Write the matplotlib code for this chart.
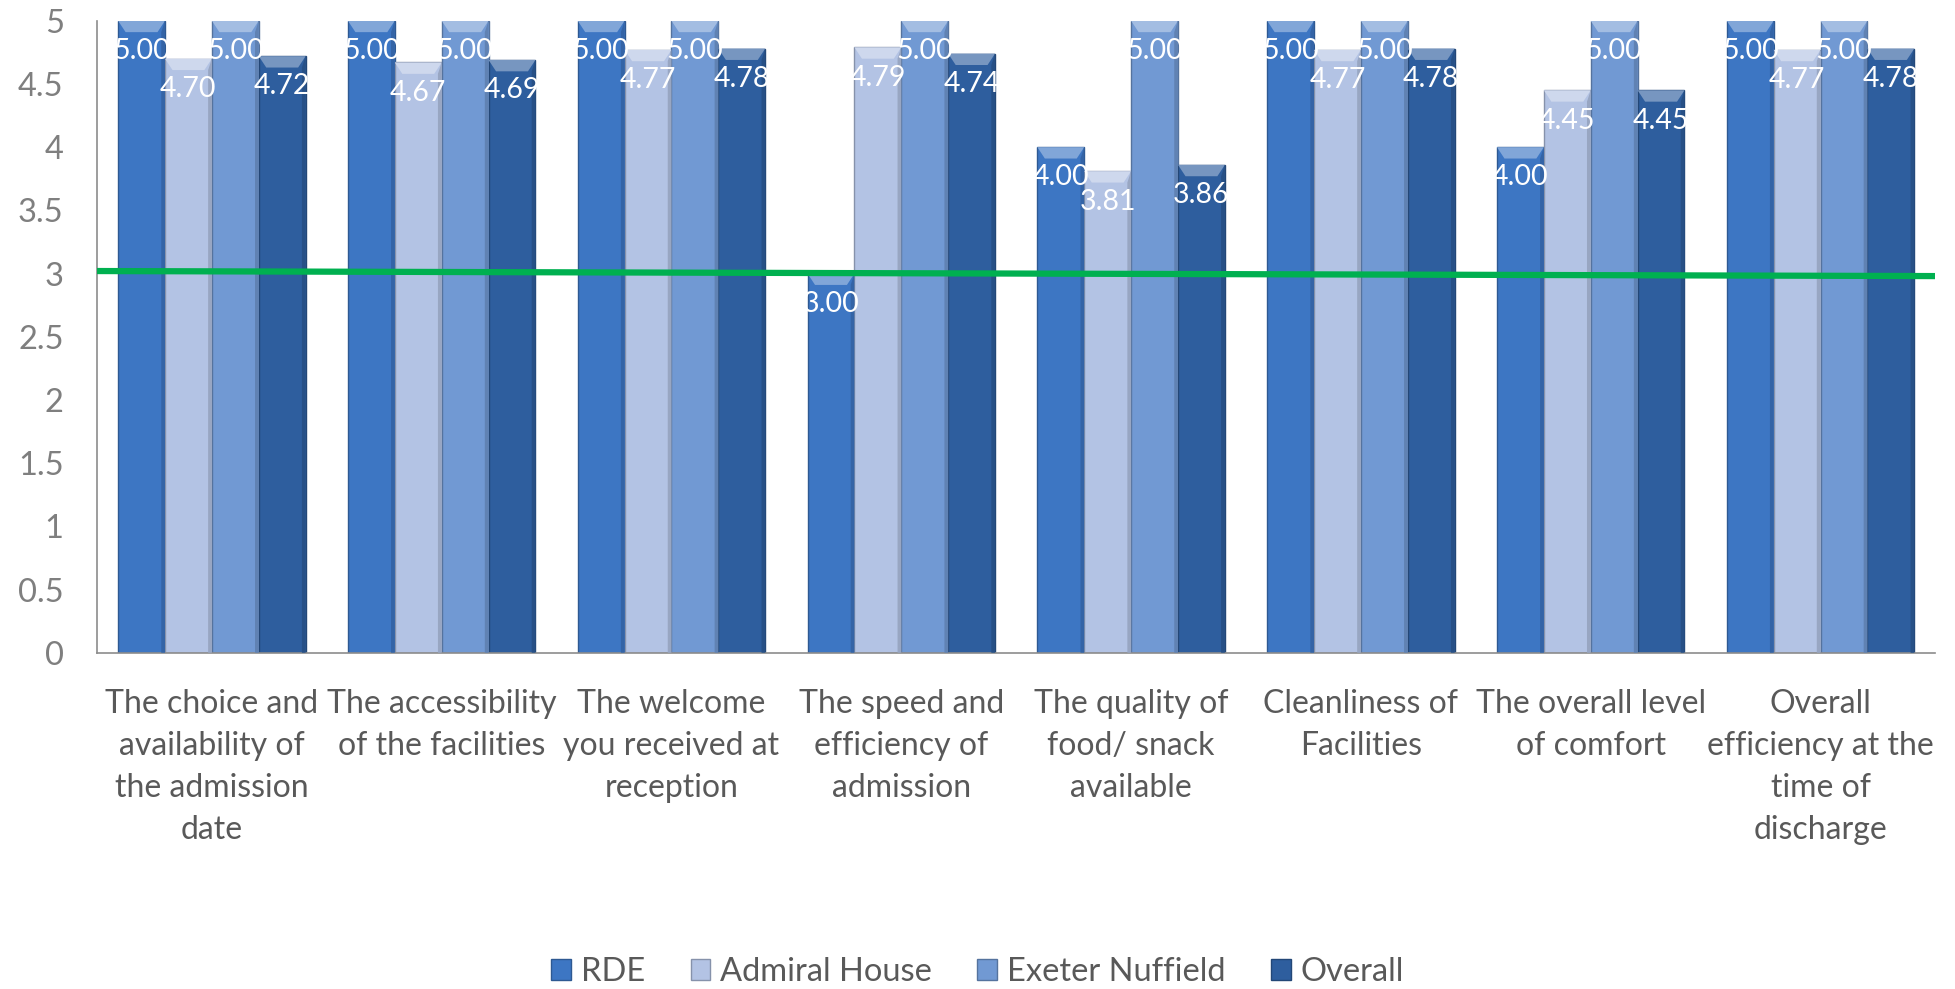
import matplotlib
matplotlib.use("Agg")
import matplotlib.pyplot as plt
import matplotlib.colors as mcolors
from matplotlib.patches import Polygon
import numpy as np

# data
categories = [
    "The choice and\navailability of\nthe admission\ndate",
    "The accessibility\nof the facilities",
    "The welcome\nyou received at\nreception",
    "The speed and\nefficiency of\nadmission",
    "The quality of\nfood/ snack\navailable",
    "Cleanliness of\nFacilities",
    "The overall level\nof comfort",
    "Overall\nefficiency at the\ntime of\ndischarge",
]
rde = [5.00, 5.00, 5.00, 3.00, 4.00, 5.00, 4.00, 5.00]
admiral_house = [4.70, 4.67, 4.77, 4.79, 3.81, 4.77, 4.45, 4.77]
exeter_nuffield = [5.00, 5.00, 5.00, 5.00, 5.00, 5.00, 5.00, 5.00]
overall = [4.72, 4.69, 4.78, 4.74, 3.86, 4.78, 4.45, 4.78]
target_line = [3.02, 2.98]

series = [
    ("RDE", rde, "#3D76C3"),
    ("Admiral House", admiral_house, "#B3C3E4"),
    ("Exeter Nuffield", exeter_nuffield, "#7199D3"),
    ("Overall", overall, "#2E5E9E"),
]

FONT = ["Lato", "DejaVu Sans"]
GREY = "#7F7F7F"
TEXT = "#595959"


def shade(color, f):
    r, g, b = mcolors.to_rgb(color)
    if f > 1:
        return (r + (1 - r) * (f - 1), g + (1 - g) * (f - 1), b + (1 - b) * (f - 1))
    return (r * f, g * f, b * f)


fig = plt.figure(figsize=(19.55, 9.89), dpi=100)
ax = fig.add_axes([0.0496, 0.340, 0.9404, 0.639])

x = np.arange(len(categories))
w = 0.204

for i, (name, vals, col) in enumerate(series):
    pos = x + (i - 1.5) * w
    bars = ax.bar(pos, vals, width=w, color=col, edgecolor=shade(col, 0.75),
                  linewidth=1.0, label=name, zorder=2)
    for b, v in zip(bars, vals):
        x0 = b.get_x()
        x1 = x0 + b.get_width()
        d = 0.16 * w
        h = 0.09
        # bevel on the top of each bar
        ax.add_patch(Polygon([(x0, v), (x1, v), (x1 - d, v - h), (x0 + d, v - h)],
                             closed=True, facecolor=shade(col, 1.35),
                             edgecolor="none", zorder=3))
        # darker side strips
        ax.add_patch(Polygon([(x1 - d * 0.5, v - h), (x1, v), (x1, 0), (x1 - d * 0.5, 0)],
                             closed=True, facecolor=shade(col, 0.85),
                             edgecolor="none", zorder=3))
        ax.text(b.get_x() + b.get_width() / 2, v - 0.24, f"{v:.2f}",
                ha="center", va="center", color="white", fontsize=20.5,
                family=FONT, zorder=5)

ax.plot([-0.5, len(categories) - 0.5], target_line, color="#00B050",
        linewidth=4.5, zorder=4, solid_capstyle="butt")

ax.set_xlim(-0.5, len(categories) - 0.5)
ax.set_ylim(0, 5)
ax.set_yticks(np.arange(0, 5.01, 0.5))
ax.set_yticklabels([f"{t:g}" for t in np.arange(0, 5.01, 0.5)])
ax.set_xticks(x)
ax.set_xticklabels(categories, linespacing=1.5)

for lab in ax.get_yticklabels():
    lab.set_family(FONT)
    lab.set_fontsize(23.5)
    lab.set_color(GREY)
for lab in ax.get_xticklabels():
    lab.set_family(FONT)
    lab.set_fontsize(23)
    lab.set_color(TEXT)
    lab.set_va("top")

ax.tick_params(axis="both", length=0)
ax.tick_params(axis="y", pad=24)
ax.tick_params(axis="x", pad=26)
for s in ["top", "right"]:
    ax.spines[s].set_visible(False)
for s in ["left", "bottom"]:
    ax.spines[s].set_color("#8C8C8C")
    ax.spines[s].set_linewidth(1.2)

leg = fig.legend(loc="center", bbox_to_anchor=(0.5, 0.017), ncol=4,
                 frameon=False, handlelength=0.6, handleheight=0.6,
                 handletextpad=0.3, columnspacing=1.4,
                 prop={"family": FONT, "size": 23.5})
for t in leg.get_texts():
    t.set_color(TEXT)

fig.savefig("out.png", dpi=100)
